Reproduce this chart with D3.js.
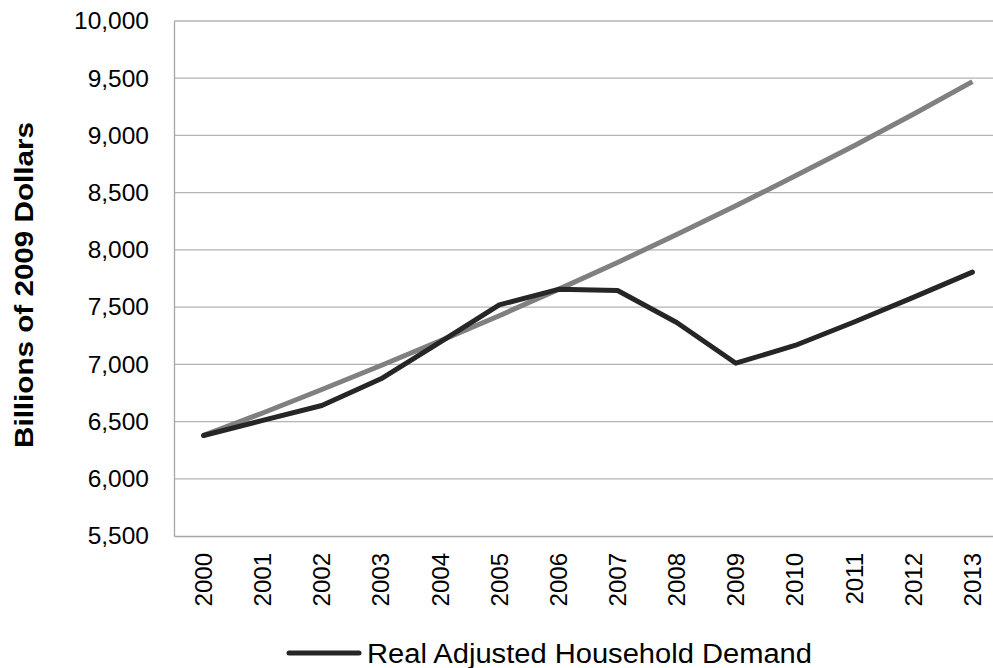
<!DOCTYPE html>
<html>
<head>
<meta charset="utf-8">
<script src="https://cdn.jsdelivr.net/npm/d3@7"></script>
<style>
  html, body { margin: 0; padding: 0; background: #fff; overflow: hidden; }
  svg { display: block; font-family: "Liberation Sans", Arial, sans-serif; }
</style>
</head>
<body>
<svg width="993" height="668"></svg>
<script>
var years = ["2000", "2001", "2002", "2003", "2004", "2005", "2006",
             "2007", "2008", "2009", "2010", "2011", "2012", "2013"];
var householdDemand = [6378, 6510, 6640, 6874, 7195, 7520, 7655,
                       7645, 7365, 7010, 7165, 7370, 7585, 7806];
var trendDemand = [6380, 6575, 6780, 6990, 7205, 7425, 7655,
                   7890, 8135, 8385, 8645, 8910, 9185, 9470];
var yTicks = [5500, 6000, 6500, 7000, 7500, 8000, 8500, 9000, 9500, 10000];
var legendLabel = "Real Adjusted Household Demand";

var svg = d3.select("svg"),
    plotLeft = 174, plotRight = 1002, plotTop = 21, plotBottom = 536;

var x = d3.scaleBand().domain(years).range([plotLeft, plotRight]);
var y = d3.scaleLinear().domain([5500, 10000]).range([plotBottom, plotTop]);
var fmt = d3.format(",");

// gridlines
svg.append("g")
    .selectAll("line")
    .data(yTicks.slice(1))
    .enter().append("line")
    .attr("x1", plotLeft).attr("x2", plotRight)
    .attr("y1", function(d) { return y(d); })
    .attr("y2", function(d) { return y(d); })
    .attr("stroke", "#b3b3b3")
    .attr("stroke-width", 1.3);

// y axis
var yAxis = svg.append("g")
    .attr("transform", "translate(" + plotLeft + ",0)")
    .call(d3.axisLeft(y).tickValues(yTicks).tickFormat(fmt).tickSize(0).tickPadding(25));
yAxis.select(".domain").attr("stroke", "#a6a6a6").attr("stroke-width", 1.3);
yAxis.selectAll("text")
    .attr("font-size", "24.5px")
    .attr("fill", "#000")
    .attr("font-family", "Liberation Sans, Arial, sans-serif");

// x axis
var xAxis = svg.append("g")
    .attr("transform", "translate(0," + plotBottom + ")")
    .call(d3.axisBottom(x).tickSize(0));
xAxis.select(".domain").attr("stroke", "#a6a6a6").attr("stroke-width", 1.3);
xAxis.selectAll("text")
    .attr("font-size", "24px")
    .attr("fill", "#000")
    .attr("font-family", "Liberation Sans, Arial, sans-serif")
    .attr("transform", "rotate(-90)")
    .attr("text-anchor", "end")
    .attr("x", -17)
    .attr("y", 0)
    .attr("dy", "0.35em");

// y title
svg.append("text")
    .attr("transform", "translate(33,285) rotate(-90)")
    .attr("text-anchor", "middle")
    .attr("font-size", "25px")
    .attr("font-weight", "bold")
    .attr("textLength", 326)
    .attr("lengthAdjust", "spacingAndGlyphs")
    .text("Billions of 2009 Dollars");

var line = d3.line()
    .x(function(d, i) { return x(years[i]) + x.bandwidth() / 2; })
    .y(function(d) { return y(d); });

svg.append("path")
    .datum(trendDemand)
    .attr("d", line)
    .attr("fill", "none")
    .attr("stroke", "#808080")
    .attr("stroke-width", 5)
    .attr("stroke-linejoin", "round")
    .attr("stroke-linecap", "butt");

svg.append("path")
    .datum(householdDemand)
    .attr("d", line)
    .attr("fill", "none")
    .attr("stroke", "#262626")
    .attr("stroke-width", 5)
    .attr("stroke-linejoin", "round")
    .attr("stroke-linecap", "round");

// legend
var legend = svg.append("g").attr("transform", "translate(289,653)");
legend.append("line")
    .attr("x1", 0).attr("x2", 70)
    .attr("y1", 0).attr("y2", 0)
    .attr("stroke", "#262626")
    .attr("stroke-width", 5)
    .attr("stroke-linecap", "round");
legend.append("text")
    .attr("x", 78)
    .attr("y", 9.5)
    .attr("font-size", "27px")
    .attr("textLength", 445)
    .attr("lengthAdjust", "spacingAndGlyphs")
    .text(legendLabel);
</script>
</body>
</html>
